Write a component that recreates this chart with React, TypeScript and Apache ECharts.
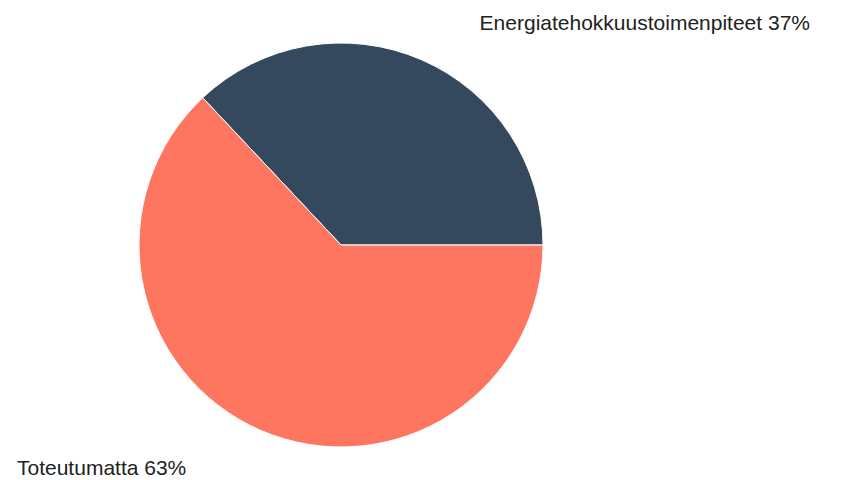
import React, { useEffect, useRef } from "react";
import * as echarts from "echarts";

const categories = ["Energiatehokkuustoimenpiteet", "Toteutumatta"];
const values = [37, 63];
const colors = ["#34495e", "#fe765f"];

export default function App() {
  const ref = useRef<HTMLDivElement>(null);
  useEffect(() => {
    document.body.style.margin = "0";
    const chart = echarts.init(ref.current!, undefined, { renderer: "svg" });
    chart.setOption({
      animation: false,
      backgroundColor: "#ffffff",
      series: [
        {
          type: "pie",
          center: [341, 245],
          radius: [0, 202],
          startAngle: 133.2,
          clockwise: true,
          data: categories.map((name, i) => ({
            name,
            value: values[i],
            itemStyle: { color: colors[i] },
          })),
          itemStyle: { borderColor: "#ffffff", borderWidth: 1 },
          label: {
            show: true,
            formatter: "{b} {c}%",
            color: "#222222",
            fontSize: 21,
            fontFamily: "Liberation Sans, Arial, sans-serif",
          },
          labelLine: { show: false },
          labelLayout: (params: any) => {
            if (params.dataIndex === 0) {
              return { x: 810, y: 22, align: "right", verticalAlign: "middle" };
            }
            return { x: 17, y: 467, align: "left", verticalAlign: "middle" };
          },
        },
      ],
    });
    return () => chart.dispose();
  }, []);
  return <div ref={ref} style={{ width: 843, height: 480 }} />;
}
